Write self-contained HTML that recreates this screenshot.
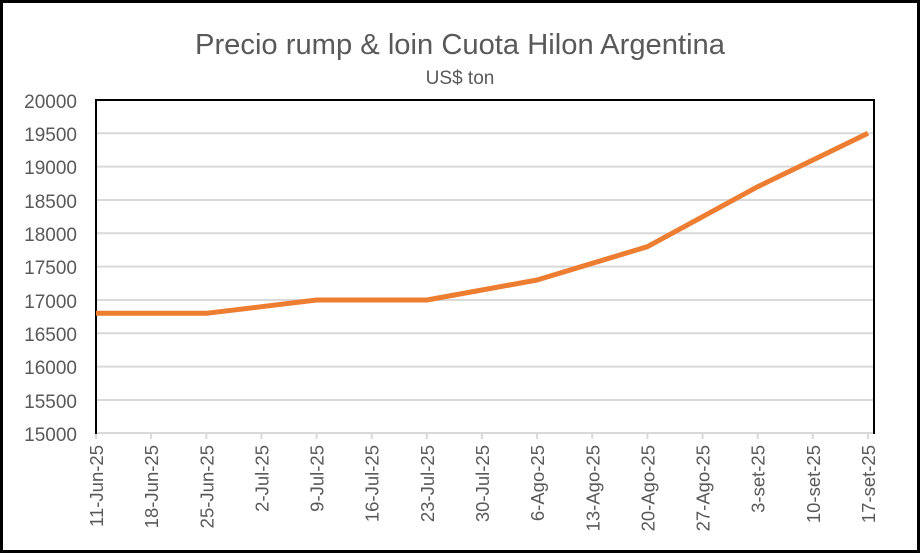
<!DOCTYPE html>
<html><head><meta charset="utf-8"><style>
body{margin:0;background:#fff}
svg{display:block}
text{font-family:"Liberation Sans",sans-serif;fill:#595959}
</style></head><body>
<svg width="920" height="553" viewBox="0 0 920 553">
<rect x="1.5" y="1.5" width="917" height="550" fill="#fff" stroke="#000" stroke-width="3"/>
<text x="460" y="54" font-size="29" text-anchor="middle" textLength="530" lengthAdjust="spacingAndGlyphs">Precio rump &amp; loin Cuota Hilon Argentina</text>
<text x="460" y="84" font-size="19" text-anchor="middle">US$ ton</text>
<g stroke="#d9d9d9" stroke-width="2">
<line x1="96" x2="874" y1="133.3" y2="133.3"/><line x1="96" x2="874" y1="166.6" y2="166.6"/>
<line x1="96" x2="874" y1="200" y2="200"/><line x1="96" x2="874" y1="233.3" y2="233.3"/>
<line x1="96" x2="874" y1="266.6" y2="266.6"/><line x1="96" x2="874" y1="300" y2="300"/>
<line x1="96" x2="874" y1="333.3" y2="333.3"/><line x1="96" x2="874" y1="366.6" y2="366.6"/>
<line x1="96" x2="874" y1="400" y2="400"/><line x1="96" x2="874" y1="433" y2="433"/>
</g>
<g stroke="#d9d9d9" stroke-width="2" id="ticks"></g>
<path d="M96,434V100H874V434" fill="none" stroke="#000" stroke-width="2"/>
<g font-size="19" text-anchor="end">
<text x="77" y="108">20000</text><text x="77" y="141">19500</text><text x="77" y="174">19000</text>
<text x="77" y="208">18500</text><text x="77" y="241">18000</text><text x="77" y="274">17500</text>
<text x="77" y="308">17000</text><text x="77" y="341">16500</text><text x="77" y="374">16000</text>
<text x="77" y="408">15500</text><text x="77" y="441">15000</text>
</g>
<g id="xl" font-size="18.5" text-anchor="end"></g>
<polyline fill="none" stroke="#ed7d31" stroke-width="5" stroke-linejoin="round" points="96,313.3 151.1,313.3 206.3,313.3 261.4,306.7 316.6,300 371.7,300 426.9,300 482,290 537.1,280 592.3,263.3 647.4,246.7 702.6,216.7 757.7,186.7 812.9,160 868,133.3"/>
<script>
var L=["11-Jun-25","18-Jun-25","25-Jun-25","2-Jul-25","9-Jul-25","16-Jul-25","23-Jul-25","30-Jul-25","6-Ago-25","13-Ago-25","20-Ago-25","27-Ago-25","3-set-25","10-set-25","17-set-25"];
var ns="http://www.w3.org/2000/svg",g=document.getElementById("xl"),t=document.getElementById("ticks");
L.forEach(function(s,i){var x=96+i*55.14;
var l=document.createElementNS(ns,"line");l.setAttribute("x1",x);l.setAttribute("x2",x);l.setAttribute("y1",433);l.setAttribute("y2",439);t.appendChild(l);
var e=document.createElementNS(ns,"text");e.setAttribute("transform","translate("+(x+7)+",445) rotate(-90)");e.textContent=s;g.appendChild(e);});
</script>
</svg>
</body></html>
